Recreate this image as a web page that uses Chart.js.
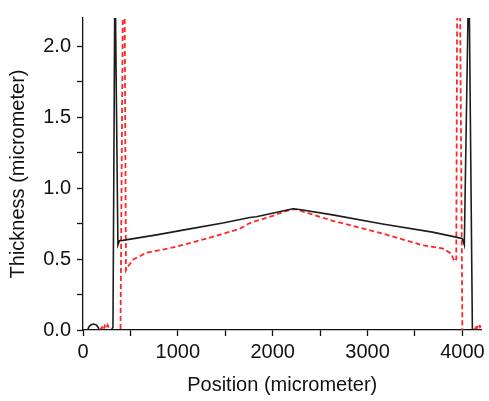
<!DOCTYPE html>
<html>
<head>
<meta charset="utf-8">
<script src="https://cdn.jsdelivr.net/npm/chart.js@4/dist/chart.umd.min.js"></script>
<style>
  html, body { margin: 0; padding: 0; background: #fff; }
  #wrap { width: 489px; height: 401px; }
</style>
</head>
<body>
<div id="wrap"><canvas id="chart-thickness"></canvas></div>
<script>
//--------------------- profile data (position in um, thickness in um) ---------------------
var pos_black = [0, 50, 60, 80, 110, 140, 160, 170, 300, 316, 337, 368, 385, 420, 775, 1126, 1475, 1758, 1828, 2105, 2214, 2300, 2632, 3158, 3684, 3933, 4000, 4020, 4068, 4105, 4200];
var thick_black = [0, 0, 0.02, 0.035, 0.042, 0.035, 0.02, 0, 0, 0.02, 2.6, 0.6, 0.63, 0.632, 0.671, 0.713, 0.754, 0.793, 0.798, 0.839, 0.855, 0.848, 0.812, 0.747, 0.69, 0.655, 0.644, 0.6, 2.6, 0, 0];

var pos_red = [180, 200, 215, 230, 245, 260, 280, null, 395, 431, 453, 475, 530, 670, 950, 1300, 1650, 1758, 2000, 2109, 2200, 2250, 2632, 3158, 3579, 3790, 3880, 3916, 3935, 3955, 4000, null, 4120, 4135, 4150, 4170, 4185, 4200];
var thick_red = [0, 0.02, 0.0, 0.03, 0.01, 0.035, 0, null, -0.05, 3.3, 0.42, 0.448, 0.497, 0.545, 0.582, 0.644, 0.713, 0.754, 0.805, 0.832, 0.85, 0.85, 0.77, 0.68, 0.598, 0.575, 0.54, 0.483, 0.5, 4.2, -0.05, null, -0.02, 0.03, 0.01, 0.04, 0.02, 0.03];

// axis ranges, tick positions (major + minor) and which ones get a label
var x_min = 0, x_max = 4200;
var x_ticks = [0, 500, 1000, 1500, 2000, 2500, 3000, 3500, 4000];
var x_labels = ['0', '', '1000', '', '2000', '', '3000', '', '4000'];
var y_min = 0, y_max = 2.2;
var y_ticks = [0, 0.25, 0.5, 0.75, 1.0, 1.25, 1.5, 1.75, 2.0];
var y_labels = ['0.0', '', '0.5', '', '1.0', '', '1.5', '', '2.0'];

function toPoints(xs, ys) {
    var pts = [];
    for (var i = 0; i < xs.length; i++) {
        pts.push({ x: xs[i] === null ? xs[i - 1] : xs[i], y: ys[i] });
    }
    return pts;
}

var FONT = "'Liberation Sans', Arial, Helvetica, sans-serif";

var ctx = document.getElementById('chart-thickness').getContext('2d');
var chart_thickness = new Chart(ctx, {
    type: 'line',
    data: {
        datasets: [{
            label: 'A',
            data: toPoints(pos_black, thick_black),
            borderColor: '#1c1c1c',
            borderWidth: 1.6,
            pointRadius: 0,
            tension: 0,
            fill: false
        }, {
            label: 'B',
            data: toPoints(pos_red, thick_red),
            borderColor: '#ff2626',
            borderWidth: 1.8,
            borderDash: [5, 3],
            pointRadius: 0,
            tension: 0,
            spanGaps: false,
            fill: false
        }]
    },
    options: {
        responsive: true,
        maintainAspectRatio: false,
        animation: false,
        layout: { padding: { top: 10, right: 7, left: 0, bottom: 0 } },
        plugins: { legend: { display: false }, tooltip: { enabled: false } },
        scales: {
            x: {
                type: 'linear',
                min: x_min,
                max: x_max,
                afterBuildTicks: function (scale) {
                    scale.ticks = x_ticks.map(function (v) { return { value: v }; });
                },
                afterFit: function (scale) { scale.height = 71; },
                border: { display: true, color: '#111', width: 1.3 },
                grid: { display: true, drawOnChartArea: false, tickLength: 6, tickColor: '#111', tickWidth: 1.3 },
                ticks: {
                    maxRotation: 0,
                    minRotation: 0,
                    autoSkip: false,
                    padding: 4,
                    color: '#111',
                    font: { family: FONT, size: 20 },
                    callback: function (v, i) { return x_labels[i]; }
                },
                title: {
                    display: true,
                    text: 'Position (micrometer)',
                    color: '#111',
                    font: { family: FONT, size: 20 },
                    padding: { top: 0, bottom: 4 }
                }
            },
            y: {
                type: 'linear',
                min: y_min,
                max: y_max,
                afterBuildTicks: function (scale) {
                    scale.ticks = y_ticks.map(function (v) { return { value: v }; });
                },
                afterFit: function (scale) { scale.width = 83; },
                border: { display: true, color: '#111', width: 1.3 },
                grid: { display: true, drawOnChartArea: false, tickLength: 6, tickColor: '#111', tickWidth: 1.3 },
                ticks: {
                    autoSkip: false,
                    padding: 6,
                    color: '#111',
                    font: { family: FONT, size: 20 },
                    callback: function (v, i) { return y_labels[i]; }
                },
                title: {
                    display: true,
                    text: 'Thickness (micrometer)',
                    color: '#111',
                    font: { family: FONT, size: 20 },
                    padding: { top: 6, bottom: 0 }
                }
            }
        }
    }
});
</script>
</body>
</html>
